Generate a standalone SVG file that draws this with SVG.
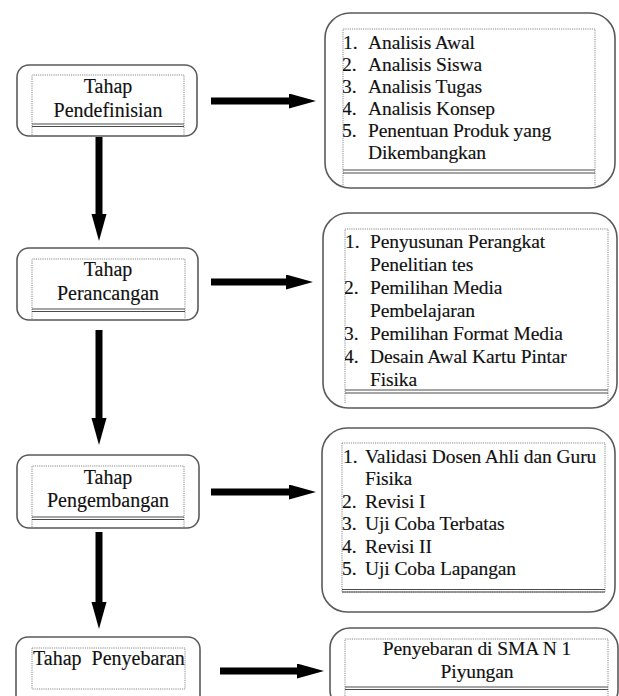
<svg xmlns="http://www.w3.org/2000/svg" width="619" height="696" viewBox="0 0 619 696">
<style>
.outer{fill:#fff;stroke:#5a5a5a;stroke-width:1.6}
.inner{fill:none;stroke:#8a8a8a;stroke-width:1;stroke-dasharray:1.2 1}
.sep{fill:none;stroke:#4a4a4a;stroke-width:1}
.t{font-family:"Liberation Serif","Times New Roman",serif;font-size:20px;fill:#111;stroke:#111;stroke-width:0.15}
.c{text-anchor:middle}
.l{font-size:19.5px;letter-spacing:-0.1px}
.conn{stroke:#000;stroke-width:7;fill:none}
</style>
<defs>
<marker id="ah" markerUnits="userSpaceOnUse" markerWidth="30" markerHeight="16" refX="1" refY="7.5" orient="auto">
<path d="M0,0 L27,7.5 L0,15 Z" fill="#000"/>
</marker>
<clipPath id="c1"><rect x="343" y="29" width="252" height="156"/></clipPath>
<clipPath id="c2"><rect x="345" y="229" width="263" height="174"/></clipPath>
<clipPath id="c3"><rect x="342" y="443" width="263" height="149"/></clipPath>
<clipPath id="c4"><rect x="32" y="648" width="153" height="41"/></clipPath>
</defs>
<rect width="619" height="696" fill="#fff"/>

<g id="connectors">
<line class="conn" x1="99" y1="137" x2="99" y2="215" marker-end="url(#ah)"/>
<line class="conn" x1="99" y1="330" x2="99" y2="419" marker-end="url(#ah)"/>
<line class="conn" x1="99" y1="532" x2="99" y2="603" marker-end="url(#ah)"/>
<line class="conn" x1="211" y1="101" x2="290" y2="101" marker-end="url(#ah)"/>
<line class="conn" x1="211" y1="282" x2="287" y2="282" marker-end="url(#ah)"/>
<line class="conn" x1="211" y1="492" x2="290" y2="492" marker-end="url(#ah)"/>
<line class="conn" x1="220" y1="671" x2="298" y2="671" marker-end="url(#ah)"/>
</g>

<g id="node-pendefinisian">
<rect class="outer" x="17" y="65" width="180" height="71" rx="12"/>
<path class="inner" d="M32,135 V75 H184 V135"/>
<path class="sep" d="M32,124 H184 M32,126.5 H184"/>
<text class="t c" x="108" y="93">Tahap</text>
<text class="t c" x="108" y="117">Pendefinisian</text>
</g>

<g id="node-perancangan">
<rect class="outer" x="17" y="248" width="181" height="72" rx="12"/>
<path class="inner" d="M32,319 V259 H185 V319"/>
<path class="sep" d="M32,309 H185 M32,311.5 H185"/>
<text class="t c" x="108" y="276">Tahap</text>
<text class="t c" x="108" y="300">Perancangan</text>
</g>

<g id="node-pengembangan">
<rect class="outer" x="17" y="455" width="182" height="73" rx="12"/>
<path class="inner" d="M32,527 V466 H184 V527"/>
<path class="sep" d="M32,517 H184 M32,519.5 H184"/>
<text class="t c" x="108" y="484">Tahap</text>
<text class="t c" x="108" y="507">Pengembangan</text>
</g>

<g id="node-penyebaran">
<rect class="outer" x="16" y="637" width="184" height="72" rx="12"/>
<rect class="inner" x="32" y="648" width="153" height="41"/>
<text class="t" x="33" y="665" font-size="20.5" clip-path="url(#c4)" xml:space="preserve">Tahap  Penyebaran</text>
</g>

<g id="list-pendefinisian">
<rect class="outer" x="325" y="13" width="290" height="175" rx="25"/>
<path class="inner" d="M343,185 V29 H595 V185"/>
<path class="sep" d="M343,170 H595 M343,173 H595"/>
<g class="t l" clip-path="url(#c1)">
<text x="343" y="49">1.</text><text x="368" y="49">Analisis Awal</text>
<text x="342" y="71">2.</text><text x="368" y="71">Analisis Siswa</text>
<text x="342" y="93">3.</text><text x="368" y="93">Analisis Tugas</text>
<text x="342" y="115">4.</text><text x="368" y="115">Analisis Konsep</text>
<text x="342" y="137">5.</text><text x="368" y="137">Penentuan Produk yang</text>
<text x="368" y="159">Dikembangkan</text>
</g>
</g>

<g id="list-perancangan">
<rect class="outer" x="323" y="213" width="294" height="195" rx="25"/>
<path class="inner" d="M345,403 V229 H608 V403"/>
<path class="sep" d="M345,390 H608 M345,393 H608"/>
<g class="t l" clip-path="url(#c2)">
<text x="345" y="248">1.</text><text x="370" y="248">Penyusunan Perangkat</text>
<text x="370" y="271">Penelitian tes</text>
<text x="344" y="294">2.</text><text x="370" y="294">Pemilihan Media</text>
<text x="370" y="317">Pembelajaran</text>
<text x="344" y="340">3.</text><text x="370" y="340">Pemilihan Format Media</text>
<text x="344" y="363">4.</text><text x="370" y="363">Desain Awal Kartu Pintar</text>
<text x="370" y="386">Fisika</text>
</g>
</g>

<g id="list-pengembangan">
<rect class="outer" x="322" y="428" width="293" height="184" rx="25"/>
<rect class="inner" x="342" y="443" width="263" height="149"/>
<path class="sep" d="M342,589.5 H605 M342,592 H605"/>
<g class="t l" clip-path="url(#c3)">
<text x="343" y="463">1.</text><text x="365" y="463">Validasi Dosen Ahli dan Guru</text>
<text x="365" y="485">Fisika</text>
<text x="342" y="508">2.</text><text x="365" y="508">Revisi I</text>
<text x="342" y="530">3.</text><text x="365" y="530">Uji Coba Terbatas</text>
<text x="342" y="553">4.</text><text x="365" y="553">Revisi II</text>
<text x="342" y="575">5.</text><text x="365" y="575">Uji Coba Lapangan</text>
</g>
</g>

<g id="list-penyebaran">
<rect class="outer" x="330" y="628" width="288" height="82" rx="20"/>
<path class="inner" d="M345,696 V639 H608 V696"/>
<path class="sep" d="M345,687 H608 M345,689.5 H608"/>
<text class="t c l" x="477" y="655">Penyebaran di SMA N 1</text>
<text class="t c l" x="477" y="678">Piyungan</text>
</g>
</svg>
